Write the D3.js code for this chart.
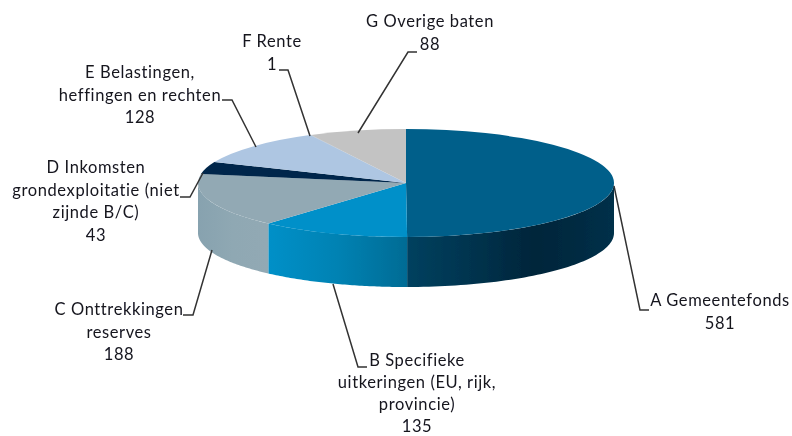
<!DOCTYPE html>
<html><head><meta charset="utf-8">
<script src="https://cdn.jsdelivr.net/npm/d3@7"></script>
<style>html,body{margin:0;padding:0;background:#fff}svg{display:block}</style>
</head><body><div id="c"></div>
<script>
(function(){
const categories = ["A Gemeentefonds","B Specifieke uitkeringen (EU, rijk, provincie)","C Onttrekkingen reserves","D Inkomsten grondexploitatie (niet zijnde B/C)","E Belastingen, heffingen en rechten","F Rente","G Overige baten"];
const values = [581,135,188,43,128,1,88];
const topColors = ["#005f8a","#0090c9","#92a9b4","#00284b","#aec6e2","#8fb0d0","#c3c3c3"];
const labelLines = [
 ["A Gemeentefonds"],
 ["B Specifieke","uitkeringen (EU, rijk,","provincie)"],
 ["C Onttrekkingen","reserves"],
 ["D Inkomsten","grondexploitatie (niet","zijnde B/C)"],
 ["E Belastingen,","heffingen en rechten"],
 ["F Rente"],
 ["G Overige baten"]
];
// layout
const W=792,H=436,cx=406,cy=183,rx=208,ry=54,depth=50;
const labelPos=[{x:720,y:306,lh:22.7},{x:417,y:366,lh:22},{x:119,y:315,lh:22.7},{x:96,y:173,lh:22.7},{x:140,y:78,lh:22.7},{x:272,y:47,lh:22.7},{x:430,y:27,lh:22.7}];
const leaders=[
 [[614,186],[640,310],[649,310]],
 [[333,284],[358,367],[367,367]],
 [[212,250],[193,315],[183,315]],
 [[203,173],[190,197],[180,197]],
 [[256,147],[232,100],[222,100]],
 [[310,136],[288,70],[279,70]],
 [[358,133],[408,52],[417,52]]
];
const svg=d3.select("#c").append("svg").attr("width",W).attr("height",H);
const defs=svg.append("defs");
const f=defs.append("filter").attr("id","soft").attr("x","-5%").attr("y","-5%").attr("width","110%").attr("height","110%");
f.append("feGaussianBlur").attr("stdDeviation",0.5);
const grad=(id,x1,x2,stops)=>{const g=defs.append("linearGradient").attr("id",id).attr("gradientUnits","userSpaceOnUse").attr("x1",x1).attr("x2",x2).attr("y1",0).attr("y2",0);
 stops.forEach(s=>g.append("stop").attr("offset",s[0]).attr("stop-color",s[1]));};
grad("wall0",406,614,[[0,"#00415f"],[0.3,"#00344f"],[0.62,"#00253a"],[1,"#003049"]]);
grad("wall1",268,408,[[0,"#0090c8"],[0.5,"#0082b3"],[1,"#006b94"]]);
grad("wall2",198,268,[[0,"#87a2af"],[0.5,"#8fa8b3"],[1,"#92a9b4"]]);

const root=svg.append("g").attr("filter","url(#soft)");
const pie=d3.pie().sort(null).value(d=>d);
const arcs=pie(values);
const sx=d3.scaleLinear().domain([-1,1]).range([cx-rx,cx+rx]);
const sy=d3.scaleLinear().domain([-1,1]).range([cy-ry,cy+ry]);
const line=d3.line().x(d=>d[0]).y(d=>d[1]);
// side walls of the front half
arcs.forEach((a,i)=>{
 const a0=Math.max(a.startAngle,Math.PI/2),a1=Math.min(a.endAngle,3*Math.PI/2);
 if(a1<=a0) return;
 const n=60,ts=d3.range(n+1).map(k=>a0+(a1-a0)*k/n);
 const topEdge=ts.map(t=>[sx(Math.sin(t)),sy(-Math.cos(t))]);
 const botEdge=topEdge.map(p=>[p[0],p[1]+depth]).reverse();
 root.append("path").attr("d",line(topEdge.concat(botEdge))+"Z").attr("fill",`url(#wall${i})`);
});
// top faces
const arc=d3.arc().innerRadius(0).outerRadius(rx);
const face=root.append("g").attr("transform",`translate(${cx},${cy}) scale(1,${ry/rx})`);
face.selectAll("path").data(arcs).join("path").attr("d",arc).attr("fill",(d,i)=>topColors[i]);
// leader lines
root.selectAll("path.leader").data(leaders).join("path").attr("class","leader")
 .attr("d",line).attr("fill","none").attr("stroke","#333").attr("stroke-width",1.5);
// labels
const txt=svg.append("g").attr("filter","url(#soft)").attr("font-family","Lato, Carlito, sans-serif").attr("font-size",16.5).attr("letter-spacing",0.6).attr("fill","#14141e").attr("text-anchor","middle");
categories.forEach((c,i)=>{
 const rows=labelLines[i].concat([String(values[i])]);
 const t=txt.append("text");
 rows.forEach((r,k)=>t.append("tspan").attr("x",labelPos[i].x).attr("y",labelPos[i].y+k*labelPos[i].lh).text(r));
});
})();
</script></body></html>
